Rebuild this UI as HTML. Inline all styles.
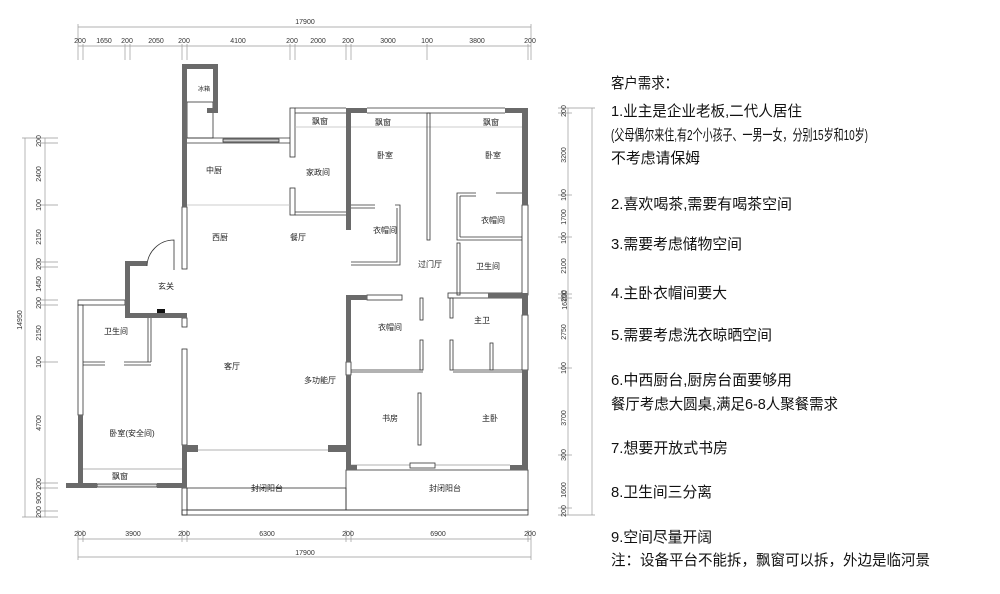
<!DOCTYPE html>
<html><head><meta charset="utf-8"><style>
html,body{margin:0;padding:0;background:#fff;}
svg{display:block;}
.d{font-family:"Liberation Sans",sans-serif;font-size:7px;fill:#333;}
.l{font-family:"Liberation Sans","Noto Sans CJK SC",sans-serif;font-size:8px;fill:#222;}
.t{font-family:"Liberation Sans","Noto Sans CJK SC",sans-serif;font-size:15px;fill:#111;}
</style></head><body>
<svg width="1000" height="594" viewBox="0 0 1000 594" xmlns="http://www.w3.org/2000/svg">
<rect width="1000" height="594" fill="#fff"/>
<!-- top dims -->
<g stroke="#999" stroke-width="0.7" fill="none">
<line x1="78" y1="27" x2="531" y2="27"/>
<line x1="78" y1="46" x2="531" y2="46"/>
<line x1="78" y1="24" x2="78" y2="60"/><line x1="83" y1="44" x2="83" y2="60"/>
<line x1="125" y1="44" x2="125" y2="60"/><line x1="130" y1="44" x2="130" y2="60"/>
<line x1="182" y1="44" x2="182" y2="60"/><line x1="187" y1="44" x2="187" y2="60"/>
<line x1="290" y1="44" x2="290" y2="60"/><line x1="295" y1="44" x2="295" y2="60"/>
<line x1="346" y1="44" x2="346" y2="60"/><line x1="351" y1="44" x2="351" y2="60"/>
<line x1="427" y1="44" x2="427" y2="60"/>
<line x1="528" y1="44" x2="528" y2="60"/><line x1="531" y1="24" x2="531" y2="60"/>
<!-- bottom dims -->
<line x1="78" y1="539" x2="531" y2="539"/>
<line x1="78" y1="557" x2="531" y2="557"/>
<line x1="78" y1="530" x2="78" y2="560"/><line x1="83" y1="530" x2="83" y2="542"/>
<line x1="182" y1="530" x2="182" y2="542"/><line x1="187" y1="530" x2="187" y2="542"/>
<line x1="346" y1="530" x2="346" y2="542"/><line x1="351" y1="530" x2="351" y2="542"/>
<line x1="528" y1="530" x2="528" y2="542"/><line x1="531" y1="530" x2="531" y2="560"/>
<!-- left dims -->
<line x1="25" y1="138" x2="25" y2="517"/>
<line x1="45" y1="138" x2="45" y2="517"/>
<line x1="22" y1="138" x2="58" y2="138"/><line x1="40" y1="143" x2="58" y2="143"/>
<line x1="40" y1="205" x2="58" y2="205"/><line x1="40" y1="262" x2="58" y2="262"/><line x1="40" y1="267" x2="58" y2="267"/>
<line x1="40" y1="300" x2="58" y2="300"/><line x1="40" y1="305" x2="58" y2="305"/>
<line x1="40" y1="362" x2="58" y2="362"/>
<line x1="40" y1="483" x2="58" y2="483"/><line x1="40" y1="488" x2="58" y2="488"/>
<line x1="40" y1="511" x2="58" y2="511"/><line x1="22" y1="517" x2="58" y2="517"/>
<!-- right dims -->
<line x1="568" y1="108" x2="568" y2="515"/>
<line x1="592" y1="108" x2="592" y2="515"/>
<line x1="558" y1="108" x2="595" y2="108"/><line x1="558" y1="113" x2="572" y2="113"/>
<line x1="558" y1="195" x2="572" y2="195"/><line x1="558" y1="237" x2="572" y2="237"/>
<line x1="558" y1="294" x2="572" y2="294"/><line x1="558" y1="298" x2="572" y2="298"/>
<line x1="558" y1="368" x2="572" y2="368"/><line x1="558" y1="455" x2="572" y2="455"/>
<line x1="558" y1="508" x2="572" y2="508"/><line x1="558" y1="515" x2="595" y2="515"/>
</g>
<g class="d" text-anchor="middle">
<text x="305" y="24">17900</text>
<text x="80" y="43">200</text><text x="104" y="43">1650</text><text x="127" y="43">200</text><text x="156" y="43">2050</text><text x="184" y="43">200</text><text x="238" y="43">4100</text><text x="292" y="43">200</text><text x="318" y="43">2000</text><text x="348" y="43">200</text><text x="388" y="43">3000</text><text x="427" y="43">100</text><text x="477" y="43">3800</text><text x="530" y="43">200</text>
<text x="80" y="536">200</text><text x="133" y="536">3900</text><text x="184" y="536">200</text><text x="267" y="536">6300</text><text x="348" y="536">200</text><text x="438" y="536">6900</text><text x="530" y="536">200</text>
<text x="305" y="555">17900</text>
</g>
<g class="d" text-anchor="middle">
<text transform="translate(22,320) rotate(-90)">14950</text>
<text transform="translate(41,141) rotate(-90)">200</text>
<text transform="translate(41,174) rotate(-90)">2400</text>
<text transform="translate(41,205) rotate(-90)">100</text>
<text transform="translate(41,237) rotate(-90)">2150</text>
<text transform="translate(41,264) rotate(-90)">200</text>
<text transform="translate(41,284) rotate(-90)">1450</text>
<text transform="translate(41,303) rotate(-90)">200</text>
<text transform="translate(41,333) rotate(-90)">2150</text>
<text transform="translate(41,362) rotate(-90)">100</text>
<text transform="translate(41,423) rotate(-90)">4700</text>
<text transform="translate(41,484) rotate(-90)">200</text>
<text transform="translate(41,498) rotate(-90)">900</text>
<text transform="translate(41,512) rotate(-90)">200</text>
<text transform="translate(567,300) rotate(-90)">16150</text>
<text transform="translate(566,111) rotate(-90)">200</text>
<text transform="translate(566,155) rotate(-90)">3200</text>
<text transform="translate(566,195) rotate(-90)">100</text>
<text transform="translate(566,217) rotate(-90)">1700</text>
<text transform="translate(566,238) rotate(-90)">100</text>
<text transform="translate(566,266) rotate(-90)">2100</text>
<text transform="translate(566,296) rotate(-90)">200</text>
<text transform="translate(566,332) rotate(-90)">2750</text>
<text transform="translate(566,368) rotate(-90)">100</text>
<text transform="translate(566,418) rotate(-90)">3700</text>
<text transform="translate(566,455) rotate(-90)">300</text>
<text transform="translate(566,490) rotate(-90)">1600</text>
<text transform="translate(566,511) rotate(-90)">200</text>
</g>
<!-- thin walls -->
<g stroke="#333" stroke-width="0.8" fill="none">
<rect x="187" y="102" width="26" height="36"/>
<line x1="187" y1="138" x2="290" y2="138"/><line x1="187" y1="143" x2="290" y2="143"/>
<rect x="223" y="139" width="56" height="3" fill="#ccc"/>
<rect x="290" y="108" width="5" height="49"/><rect x="290" y="188" width="5" height="27"/>
<line x1="295" y1="108" x2="346" y2="108"/><line x1="295" y1="113" x2="346" y2="113"/>
<line x1="295" y1="127" x2="346" y2="127" stroke="#bbb"/>
<line x1="295" y1="212" x2="346" y2="212"/><line x1="295" y1="215" x2="346" y2="215"/>
<line x1="187" y1="205" x2="290" y2="205" stroke="#bbb"/>
<rect x="182" y="207" width="5" height="62"/>
<rect x="78" y="300" width="47" height="5"/><rect x="78" y="305" width="5" height="110"/>
<line x1="148" y1="318" x2="148" y2="362"/><line x1="151" y1="318" x2="151" y2="362"/>
<line x1="83" y1="362" x2="105" y2="362"/><line x1="83" y1="365" x2="105" y2="365"/>
<line x1="124" y1="362" x2="151" y2="362"/><line x1="124" y1="365" x2="151" y2="365"/>
<rect x="182" y="349" width="5" height="96"/><rect x="182" y="318" width="5" height="9"/>
<line x1="83" y1="469" x2="182" y2="469" stroke="#999"/>
<rect x="97" y="484" width="60" height="3" fill="#ddd"/>
<line x1="198" y1="450" x2="338" y2="450" stroke="#999"/>
<rect x="182" y="488" width="5" height="27"/>
<rect x="182" y="510" width="346" height="5"/>
<rect x="187" y="488" width="159" height="22"/>
<rect x="346" y="470" width="182" height="40"/>
<line x1="351" y1="465" x2="510" y2="465" stroke="#999"/>
<rect x="410" y="463" width="25" height="5" fill="#fff"/>
<!-- right block -->
<line x1="367" y1="108" x2="505" y2="108"/><line x1="367" y1="113" x2="505" y2="113"/>
<line x1="351" y1="127" x2="522" y2="127" stroke="#bbb"/>
<rect x="427" y="113" width="3" height="127"/>
<line x1="351" y1="205" x2="375" y2="205"/><line x1="351" y1="208" x2="375" y2="208"/>
<polyline points="395,205 400,205 400,265 351,265"/>
<polyline points="397,208 397,262 351,262"/>
<polyline points="476,193 457,193 457,240 522,240"/>
<polyline points="496,193 522,193"/><polyline points="460,196 476,196"/>
<line x1="460" y1="196" x2="460" y2="237"/><line x1="460" y1="237" x2="522" y2="237"/>
<rect x="457" y="243" width="3" height="52"/>
<rect x="448" y="293" width="74" height="5"/>
<rect x="367" y="295" width="35" height="5"/>
<rect x="420" y="298" width="3" height="22"/><rect x="420" y="340" width="3" height="30"/>
<line x1="351" y1="370" x2="423" y2="370"/><line x1="351" y1="372" x2="423" y2="372"/>
<rect x="450" y="298" width="3" height="20"/><rect x="450" y="340" width="3" height="30"/>
<rect x="490" y="343" width="3" height="27"/>
<line x1="453" y1="370" x2="522" y2="370"/><line x1="453" y1="372" x2="522" y2="372"/>
<rect x="418" y="393" width="3" height="52"/>
<rect x="346" y="362" width="5" height="13"/>
<rect x="522" y="205" width="6" height="90"/><rect x="522" y="315" width="6" height="55"/>
</g>
<!-- dark walls -->
<g fill="#6a6a6a">
<rect x="182" y="64" width="36" height="5"/>
<rect x="182" y="64" width="5" height="143"/>
<rect x="213" y="64" width="5" height="49"/>
<rect x="207" y="108" width="11" height="5"/>
<rect x="125" y="261" width="5" height="57"/>
<rect x="125" y="261" width="22" height="5"/>
<rect x="125" y="313" width="62" height="5"/>
<rect x="78" y="415" width="5" height="73"/>
<rect x="66" y="483" width="31" height="5"/>
<rect x="157" y="483" width="30" height="5"/>
<rect x="182" y="445" width="5" height="43"/>
<rect x="182" y="445" width="16" height="7"/>
<rect x="346" y="108" width="5" height="122"/>
<rect x="346" y="108" width="21" height="5"/>
<rect x="505" y="108" width="23" height="5"/>
<rect x="522" y="108" width="6" height="97"/>
<rect x="346" y="295" width="5" height="67"/>
<rect x="346" y="375" width="5" height="95"/>
<rect x="346" y="295" width="21" height="5"/>
<rect x="402" y="295" width="0" height="5"/>
<rect x="488" y="293" width="40" height="5"/>
<rect x="522" y="295" width="6" height="20"/>
<rect x="522" y="370" width="6" height="100"/>
<rect x="328" y="445" width="23" height="7"/>
<rect x="346" y="465" width="11" height="5"/>
<rect x="510" y="465" width="18" height="5"/>
<rect x="157" y="309" width="8" height="4" fill="#111"/>
</g>
<!-- door arc -->
<path d="M147 266 A27 27 0 0 1 174 240 L174 270" stroke="#333" stroke-width="0.8" fill="none"/>
<!-- labels -->
<g class="l" text-anchor="middle">
<text x="204" y="91" font-size="6">冰箱</text>
<text x="214" y="173">中厨</text><text x="318" y="175">家政间</text>
<text x="220" y="240">西厨</text><text x="298" y="240">餐厅</text>
<text x="166" y="289">玄关</text><text x="116" y="334">卫生间</text>
<text x="232" y="369">客厅</text><text x="320" y="383">多功能厅</text>
<text x="132" y="436">卧室(安全间)</text><text x="120" y="479">飘窗</text>
<text x="267" y="491">封闭阳台</text><text x="445" y="491">封闭阳台</text>
<text x="385" y="158">卧室</text><text x="493" y="158">卧室</text>
<text x="385" y="233">衣帽间</text><text x="493" y="223">衣帽间</text>
<text x="430" y="267">过门厅</text><text x="488" y="269">卫生间</text>
<text x="390" y="330">衣帽间</text><text x="482" y="323">主卫</text>
<text x="390" y="421">书房</text><text x="490" y="421">主卧</text>
<text x="383" y="125">飘窗</text><text x="491" y="125">飘窗</text><text x="320" y="124">飘窗</text>
</g>
<!-- requirements text -->
<g class="t">
<text x="611" y="88" textLength="67" lengthAdjust="spacingAndGlyphs">客户需求：</text>
<text x="611" y="116" textLength="191" lengthAdjust="spacingAndGlyphs">1.业主是企业老板,二代人居住</text>
<text x="611" y="140" textLength="257" lengthAdjust="spacingAndGlyphs">(父母偶尔来住,有2个小孩子、一男一女，分别15岁和10岁)</text>
<text x="611" y="163" textLength="89" lengthAdjust="spacingAndGlyphs">不考虑请保姆</text>
<text x="611" y="209" textLength="181" lengthAdjust="spacingAndGlyphs">2.喜欢喝茶,需要有喝茶空间</text>
<text x="611" y="249" textLength="131" lengthAdjust="spacingAndGlyphs">3.需要考虑储物空间</text>
<text x="611" y="298" textLength="116" lengthAdjust="spacingAndGlyphs">4.主卧衣帽间要大</text>
<text x="611" y="340" textLength="161" lengthAdjust="spacingAndGlyphs">5.需要考虑洗衣晾晒空间</text>
<text x="611" y="385" textLength="181" lengthAdjust="spacingAndGlyphs">6.中西厨台,厨房台面要够用</text>
<text x="611" y="409" textLength="227" lengthAdjust="spacingAndGlyphs">餐厅考虑大圆桌,满足6-8人聚餐需求</text>
<text x="611" y="453" textLength="117" lengthAdjust="spacingAndGlyphs">7.想要开放式书房</text>
<text x="611" y="497" textLength="101" lengthAdjust="spacingAndGlyphs">8.卫生间三分离</text>
<text x="611" y="542" textLength="101" lengthAdjust="spacingAndGlyphs">9.空间尽量开阔</text>
<text x="611" y="565" textLength="319" lengthAdjust="spacingAndGlyphs">注：设备平台不能拆，飘窗可以拆，外边是临河景</text>
</g>
</svg>
</body></html>
